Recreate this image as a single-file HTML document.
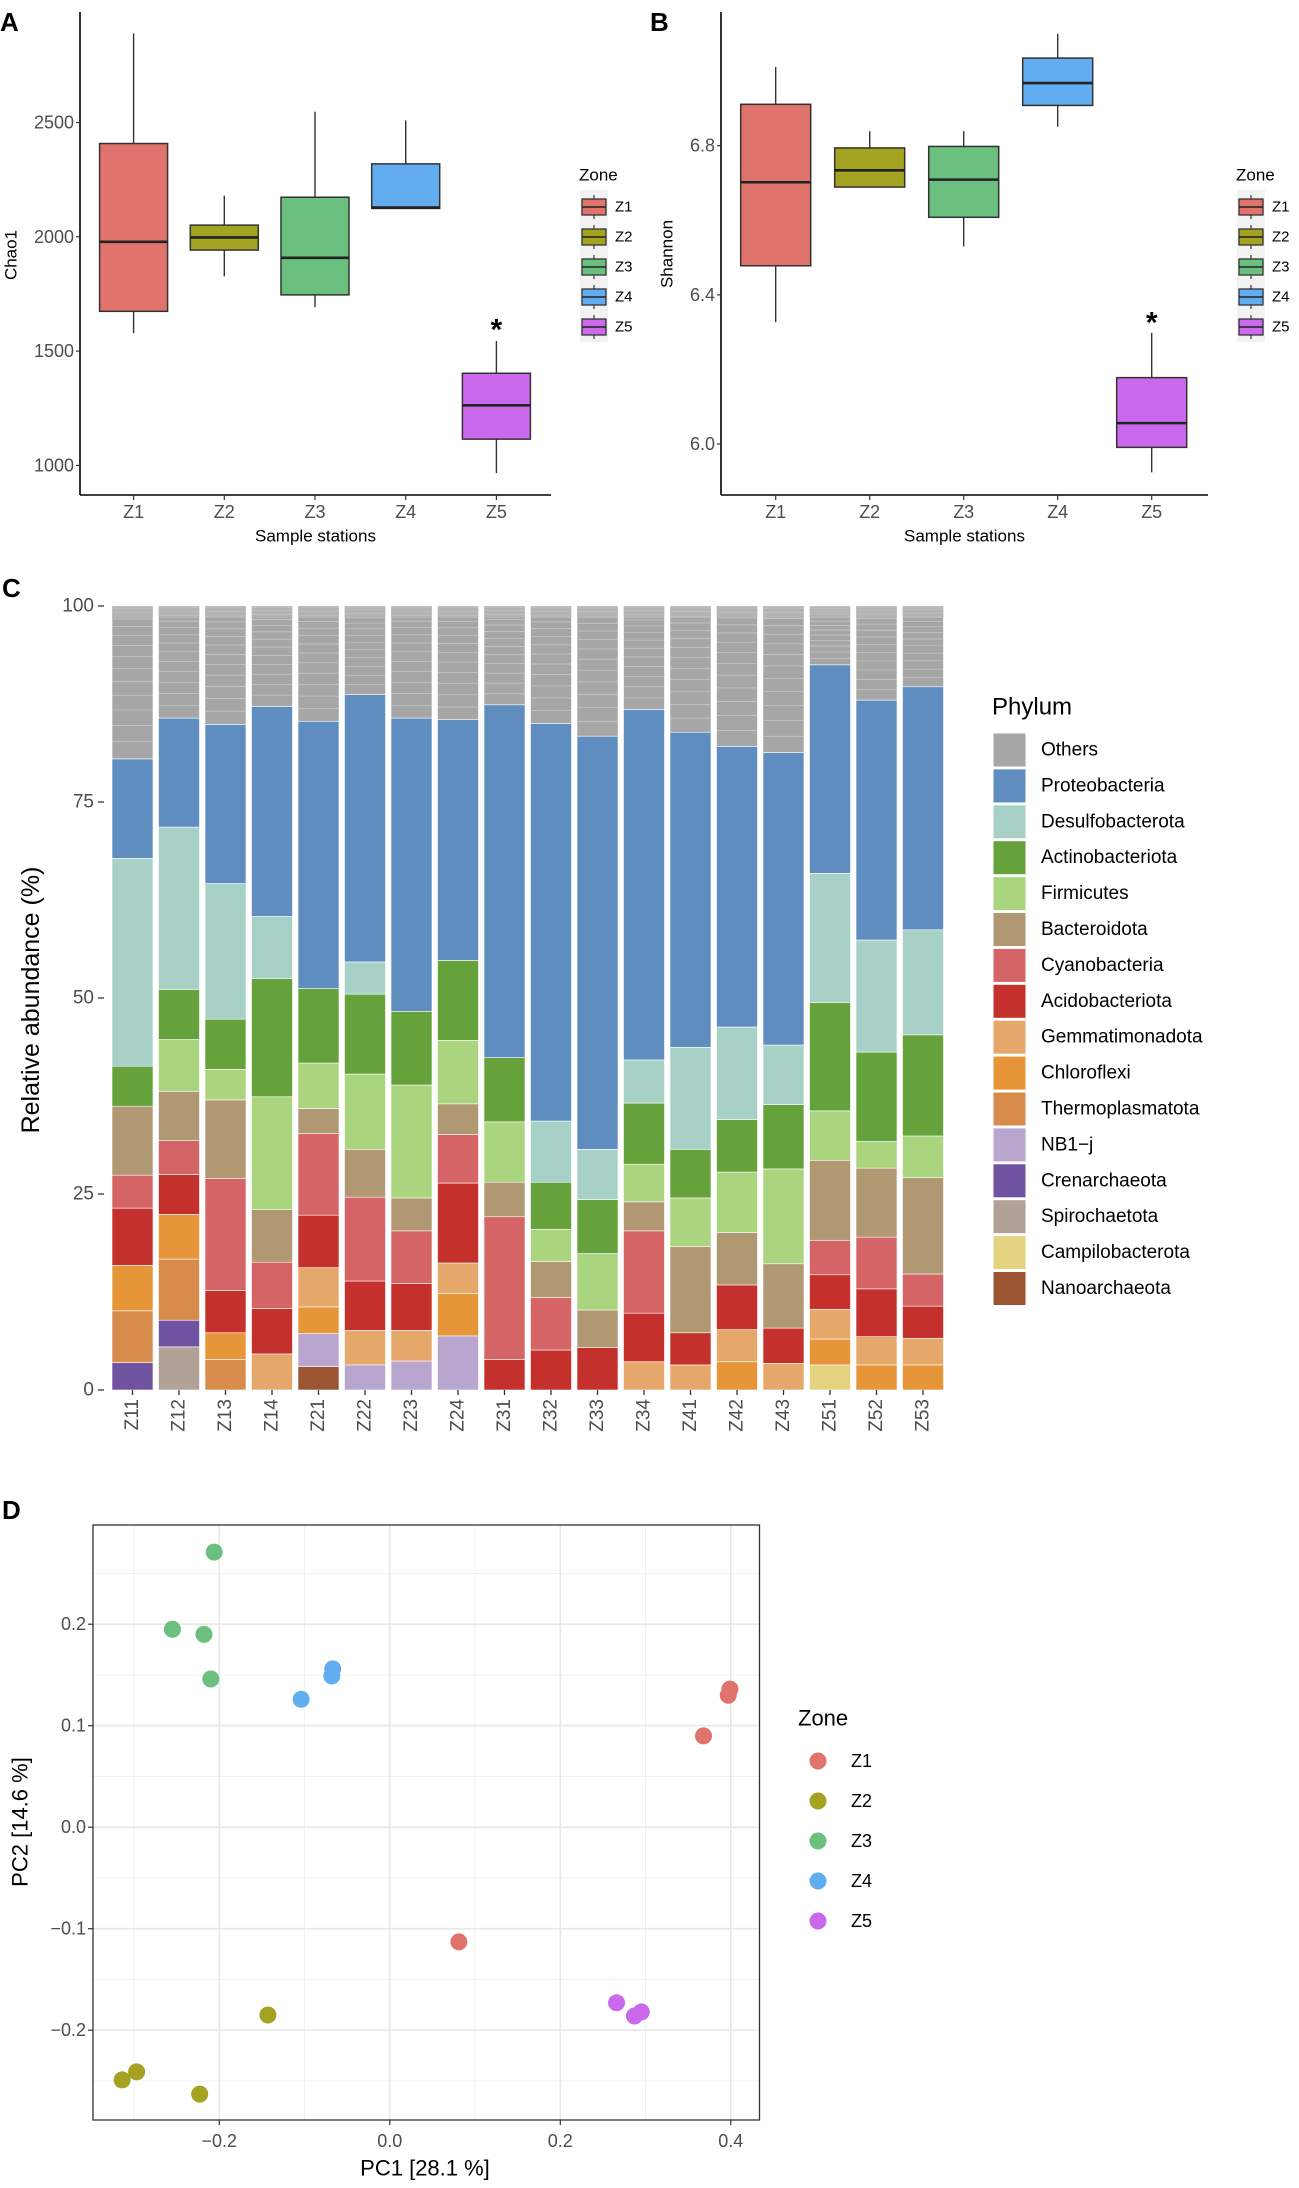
<!DOCTYPE html>
<html><head><meta charset="utf-8"><title>Diversity and community figure</title>
<style>
html,body{margin:0;padding:0;background:#fff;}
svg{display:block;font-family:"Liberation Sans",Arial,sans-serif;}
</style></head>
<body>
<svg id="fig" width="1299" height="2188" viewBox="0 0 1299 2188" xmlns="http://www.w3.org/2000/svg">
<g id="pA"></g>
<g id="pB"></g>
<g id="pC"></g>
<g id="pD"></g>
</svg>
<script>
// ---------- data ----------
const zones = ["Z1","Z2","Z3","Z4","Z5"];
const zoneColors = ["#e0736c","#a3a221","#6bbf7f","#62adef","#cb69ec"];
// boxplot stats: [whiskerLow, q1, median, q3, whiskerHigh]
const chaoStats = [
  [1578,1674,1978,2408,2890],
  [1827,1942,1997,2051,2180],
  [1692,1746,1908,2173,2547],
  [2124,2124,2128,2319,2509],
  [967,1115,1263,1403,1544]
];
const chaoTicks = [1000,1500,2000,2500];
const shannonStats = [
  [6.327,6.478,6.702,6.911,7.011],
  [6.689,6.689,6.734,6.794,6.839],
  [6.530,6.608,6.709,6.798,6.839],
  [6.851,6.908,6.968,7.035,7.100],
  [5.924,5.991,6.056,6.178,6.298]
];
const shannonTicks = [6.0,6.4,6.8];

const samples = ["Z11","Z12","Z13","Z14","Z21","Z22","Z23","Z24","Z31","Z32","Z33","Z34","Z41","Z42","Z43","Z51","Z52","Z53"];
const phyla = ["Others","Proteobacteria","Desulfobacterota","Actinobacteriota","Firmicutes","Bacteroidota","Cyanobacteria","Acidobacteriota","Gemmatimonadota","Chloroflexi","Thermoplasmatota","NB1\u2212j","Crenarchaeota","Spirochaetota","Campilobacterota","Nanoarchaeota"];
const phylaColors = ["#a6a6a6","#5f8dc0","#a7d1c7","#66a23c","#aad47e","#b09873","#d46466","#c4302b","#e6a86a","#e69538","#d88c4c","#b9a6cf","#6f52a0","#b1a196","#e3d27f","#9c5431"];
// per-phylum values (Proteobacteria .. Nanoarchaeota) per sample; Others = remainder
const proteo   = [12.7,13.9,20.3,26.8,34.1,34.1,37.4,30.7,45.0,50.7,52.7,44.7,40.2,35.8,37.3,26.6,30.6,31.0];
const desulfo  = [26.5,20.7,17.3,7.9,0,4.1,0,0,0,7.8,6.4,5.5,13.0,11.8,7.6,16.5,14.3,13.4];
const actino   = [5.1,6.4,6.4,15.1,9.5,10.2,9.4,10.2,8.2,6.0,6.9,7.8,6.2,6.7,8.2,13.8,11.4,12.9];
const firmic   = [0,6.6,3.9,14.4,5.8,9.6,14.4,8.1,7.7,4.1,7.2,4.8,6.2,7.7,12.1,6.3,3.4,5.3];
const bactero  = [8.8,6.3,10.0,6.7,3.2,6.1,4.2,3.9,4.4,4.6,4.8,3.7,11.0,6.7,8.2,10.2,8.8,12.3];
const cyano    = [4.2,4.3,14.3,5.9,10.4,10.7,6.7,6.2,18.2,6.7,0,10.5,0,0,0,4.4,6.6,4.1];
const acido    = [7.3,5.1,5.4,5.8,6.7,6.3,6.0,10.2,3.9,5.1,5.4,6.2,4.1,5.7,4.5,4.4,6.1,4.1];
const gemma    = [0,0,0,4.6,5.0,4.4,3.9,3.9,0,0,0,3.6,3.2,4.1,3.4,3.8,3.6,3.4];
const chloro   = [5.8,5.7,3.4,0,3.4,0,0,5.4,0,0,0,0,0,3.6,0,3.3,3.2,3.2];
const thermo   = [6.6,7.8,3.9,0,0,0,0,0,0,0,0,0,0,0,0,0,0,0];
const nb1j     = [0,0,0,0,4.2,3.2,3.7,6.9,0,0,0,0,0,0,0,0,0,0];
const creno    = [3.5,3.4,0,0,0,0,0,0,0,0,0,0,0,0,0,0,0,0];
const spiro    = [0,5.5,0,0,0,0,0,0,0,0,0,0,0,0,0,0,0,0];
const campilo  = [0,0,0,0,0,0,0,0,0,0,0,0,0,0,0,3.2,0,0];
const nano     = [0,0,0,0,3.0,0,0,0,0,0,0,0,0,0,0,0,0,0];
const abundTicks = [0,25,50,75,100];

const pcZone = ["Z1","Z1","Z1","Z1","Z2","Z2","Z2","Z2","Z3","Z3","Z3","Z3","Z4","Z4","Z4","Z5","Z5","Z5"];
const pc1 = [0.399,0.397,0.368,0.081,-0.143,-0.297,-0.314,-0.223,-0.206,-0.255,-0.218,-0.210,-0.104,-0.067,-0.068,0.266,0.287,0.295];
const pc2 = [0.136,0.130,0.090,-0.113,-0.185,-0.241,-0.249,-0.263,0.271,0.195,0.190,0.146,0.126,0.156,0.149,-0.173,-0.186,-0.182];
const pcXTicks = [-0.2,0.0,0.2,0.4];
const pcYTicks = [-0.2,-0.1,0.0,0.1,0.2];

// ---------- helpers ----------
const NS="http://www.w3.org/2000/svg";
function mk(parent, tag, attrs, text){
  const e=document.createElementNS(NS,tag);
  for(const k in attrs) e.setAttribute(k,attrs[k]);
  if(text!==undefined) e.textContent=text;
  parent.appendChild(e); return e;
}
function label(parent, x, y, t, size, anchor, fill, extra){
  const a={x:x,y:y,"font-size":size,"text-anchor":anchor||"start",fill:fill||"#000","dominant-baseline":"central"};
  if(extra) for(const k in extra) a[k]=extra[k];
  return mk(parent,"text",a,t);
}

// ---------- box panels ----------
function boxPanel(g, cfg){
  const yS=v=>cfg.y0+(v-cfg.v0)*(cfg.y1-cfg.y0)/(cfg.v1-cfg.v0);
  const xS=i=>cfg.cx0+i*cfg.step;
  const pl=label(g,cfg.letterX,22,cfg.letter,26,"start","#000",{"font-weight":"bold"});
  
  
  mk(g,"line",{x1:cfg.ax,y1:cfg.top,x2:cfg.ax,y2:cfg.bottom,stroke:"#000","stroke-width":1.6});
  mk(g,"line",{x1:cfg.ax,y1:cfg.bottom,x2:cfg.right,y2:cfg.bottom,stroke:"#000","stroke-width":1.6});
  cfg.ticks.forEach(t=>{
    const y=yS(t);
    mk(g,"line",{x1:cfg.ax-4,y1:y,x2:cfg.ax,y2:y,stroke:"#333","stroke-width":1.2});
    const tl=label(g,cfg.ax-6,y,cfg.fmt(t),18,"end","#4d4d4d");
    
    
  });
  cfg.stats.forEach((s,i)=>{
    const x=xS(i), hw=cfg.hw;
    mk(g,"line",{x1:x,y1:cfg.bottom,x2:x,y2:cfg.bottom+5,stroke:"#333","stroke-width":1.2});
    const xl=label(g,x,512,zones[i],18,"middle","#4d4d4d");
    
    
    const bg=mk(g,"g",{});
    
    
    mk(bg,"line",{x1:x,y1:yS(s[0]),x2:x,y2:yS(s[4]),stroke:"#333","stroke-width":1.4});
    mk(bg,"rect",{x:x-hw,y:yS(s[3]),width:2*hw,height:Math.max(1,yS(s[1])-yS(s[3])),fill:zoneColors[i],stroke:"#333","stroke-width":1.5});
    mk(bg,"line",{x1:x-hw,y1:yS(s[2]),x2:x+hw,y2:yS(s[2]),stroke:"#222","stroke-width":2.6});
  });
  const ast=label(g,xS(4),cfg.astY,"*",30,"middle","#000",{"font-weight":"bold"});
  
  
  const xt=label(g,(cfg.ax+cfg.right)/2,536,"Sample stations",17,"middle","#000");
  
  
  const yt=label(g,0,0,cfg.ytitle,17,"middle","#000",{transform:`translate(${cfg.ytx},${cfg.yty}) rotate(-90)`});
  
  
  const zt=label(g,cfg.legX,175,"Zone",17,"start","#000");
  
  
  mk(g,"rect",{x:cfg.legX+1,y:190,width:28,height:152,fill:"#f2f2f2"});
  zones.forEach((z,i)=>{
    const cy=207+i*30, kx=cfg.legX+3;
    const lg=mk(g,"g",{});
    
    
    mk(lg,"line",{x1:kx+12,y1:cy-12,x2:kx+12,y2:cy+12,stroke:"#333","stroke-width":1.2});
    mk(lg,"rect",{x:kx,y:cy-8,width:24,height:16,fill:zoneColors[i],stroke:"#333","stroke-width":1.3});
    mk(lg,"line",{x1:kx,y1:cy,x2:kx+24,y2:cy,stroke:"#222","stroke-width":1.6});
    label(lg,cfg.legX+36,cy,z,15,"start","#000");
  });
}
boxPanel(document.getElementById("pA"),{letter:"A",letterX:0,ax:80,top:12,bottom:495,right:551,
  v0:1000,y0:465.4,v1:2500,y1:122.5,ticks:chaoTicks,fmt:t=>String(t),stats:chaoStats,
  cx0:133.6,step:90.7,hw:34,astY:330,ytitle:"Chao1",ytx:11,yty:255,legX:579});
boxPanel(document.getElementById("pB"),{letter:"B",letterX:650,ax:721,top:12,bottom:495,right:1208,
  v0:6.0,y0:444,v1:6.8,y1:145.7,ticks:shannonTicks,fmt:t=>t.toFixed(1),stats:shannonStats,
  cx0:775.7,step:94,hw:35,astY:323,ytitle:"Shannon",ytx:667,yty:254,legX:1236});

// ---------- panel C ----------
(function(){
  const g=document.getElementById("pC");
  const y0=1390, y100=606;
  const yS=v=>y0+(v/100)*(y100-y0);
  const series=[proteo,desulfo,actino,firmic,bactero,cyano,acido,gemma,chloro,thermo,nb1j,creno,spiro,campilo,nano];
  const pl=label(g,2,588,"C",26,"start","#000",{"font-weight":"bold"});
  
  
  abundTicks.forEach(t=>{
    const y=yS(t);
    mk(g,"line",{x1:98,y1:y,x2:104,y2:y,stroke:"#333","stroke-width":1.3});
    const tl=label(g,94,y,String(t),19,"end","#4d4d4d");
    
    
  });
  const yt=label(g,0,0,"Relative abundance (%)",25,"middle","#000",{transform:"translate(31,1000) rotate(-90)"});
  
  
  samples.forEach((s,i)=>{
    const x=112+i*46.5, w=41;
    const bg=mk(g,"g",{});
    
    
    // stack bottom-up: reverse order of legend (Nanoarchaeota first)
    let cum=0;
    for(let k=series.length-1;k>=0;k--){
      const v=series[k][i];
      if(v<=0) continue;
      mk(bg,"rect",{x:x,y:yS(cum+v),width:w,height:yS(cum)-yS(cum+v),fill:phylaColors[k+1],stroke:"#fff","stroke-width":0.6});
      cum+=v;
    }
    // Others
    mk(bg,"rect",{x:x,y:yS(100),width:w,height:yS(cum)-yS(100),fill:phylaColors[0],stroke:"#fff","stroke-width":0.6});
    const rem=100-cum;
    for(let j=1;j<14;j++){
      const v=cum+rem*(1-Math.pow(j/14,1.6));
      mk(bg,"line",{x1:x,y1:yS(v),x2:x+w,y2:yS(v),stroke:"#d8d8d8","stroke-width":0.7,opacity:0.7});
    }
    mk(bg,"rect",{x:x,y:yS(100),width:w,height:12,fill:"#bdbdbd",opacity:0.6});
    mk(g,"line",{x1:x+w/2,y1:y0,x2:x+w/2,y2:y0+5,stroke:"#333","stroke-width":1.3});
    const xl=label(g,0,0,s,19,"end","#4d4d4d",{transform:`translate(${x+w/2},${y0+9}) rotate(-90)`});
    
    
  });
  const lt=label(g,992,707,"Phylum",24,"start","#000");
  
  
  phyla.forEach((p,k)=>{
    const cy=750+k*35.9;
    const lg=mk(g,"g",{});
    
    
    mk(lg,"rect",{x:993,y:cy-17,width:33,height:34,fill:phylaColors[k],stroke:"#fff","stroke-width":1});
    label(lg,1041,cy,p,19,"start","#000");
  });
})();

// ---------- panel D ----------
(function(){
  const g=document.getElementById("pD");
  const L=93,R=759.5,T=1525,B=2120;
  const xS=v=>389.8+v*852.5;
  const yS=v=>1827.2-v*1015;
  const pl=label(g,2,1510,"D",26,"start","#000",{"font-weight":"bold"});
  
  
  // minor grid
  for(let v=-0.3;v<=0.45;v+=0.2){ mk(g,"line",{x1:xS(v),y1:T,x2:xS(v),y2:B,stroke:"#f0f0f0","stroke-width":1}); }
  for(let v=-0.25;v<=0.3;v+=0.1){ mk(g,"line",{x1:L,y1:yS(v),x2:R,y2:yS(v),stroke:"#f0f0f0","stroke-width":1}); }
  pcXTicks.forEach(t=>{
    const x=xS(t);
    mk(g,"line",{x1:x,y1:T,x2:x,y2:B,stroke:"#e8e8e8","stroke-width":1.6});
    mk(g,"line",{x1:x,y1:B,x2:x,y2:B+5,stroke:"#333","stroke-width":1.2});
    const tl=label(g,x,2141,(t<0?"\u2212":"")+Math.abs(t).toFixed(1),18,"middle","#4d4d4d");
    
    
  });
  pcYTicks.forEach(t=>{
    const y=yS(t);
    mk(g,"line",{x1:L,y1:y,x2:R,y2:y,stroke:"#e8e8e8","stroke-width":1.6});
    mk(g,"line",{x1:L-5,y1:y,x2:L,y2:y,stroke:"#333","stroke-width":1.2});
    const tl=label(g,86,y,(t<0?"\u2212":"")+Math.abs(t).toFixed(1),18,"end","#4d4d4d");
    
    
  });
  mk(g,"rect",{x:L,y:T,width:R-L,height:B-T,fill:"none",stroke:"#333","stroke-width":1.3});
  pc1.forEach((v,i)=>{
    const c=mk(g,"circle",{cx:xS(v),cy:yS(pc2[i]),r:8.5,fill:zoneColors[zones.indexOf(pcZone[i])]});
    
    
  });
  const xt=label(g,425,2168,"PC1 [28.1 %]",22,"middle","#000");
  
  
  const yt=label(g,0,0,"PC2 [14.6 %]",22,"middle","#000",{transform:"translate(20,1822) rotate(-90)"});
  
  
  const lt=label(g,798,1718,"Zone",22,"start","#000");
  
  
  zones.forEach((z,i)=>{
    const cy=1761+i*40;
    const lg=mk(g,"g",{});
    
    
    mk(lg,"circle",{cx:818,cy:cy,r:8.5,fill:zoneColors[i]});
    label(lg,851,cy,z,18,"start","#000");
  });
})();
</script>
</body></html>
